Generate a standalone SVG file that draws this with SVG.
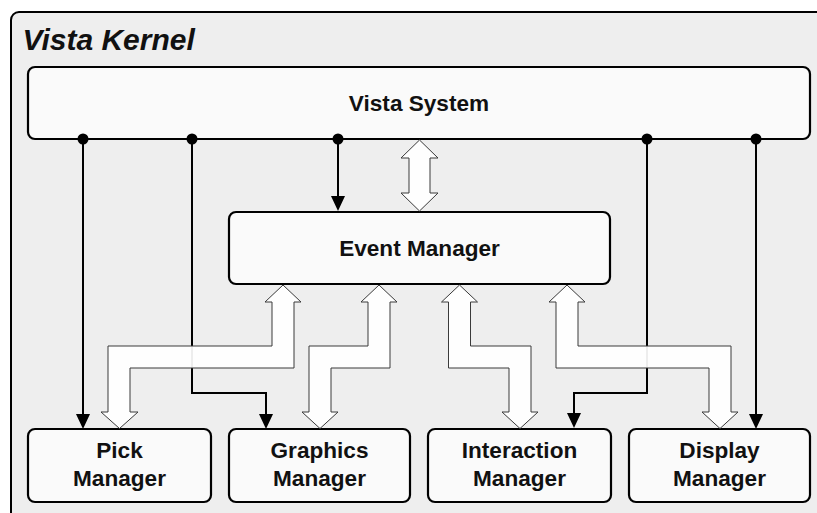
<svg xmlns="http://www.w3.org/2000/svg" width="817" height="513" viewBox="0 0 817 513">
  <defs>
    <marker id="tip" viewBox="0 0 15 14" refX="12" refY="7" markerWidth="15" markerHeight="14" markerUnits="userSpaceOnUse" orient="auto">
      <path d="M0,0 L15,7 L0,14 Z" fill="#000"/>
    </marker>
    <style>
      .box { fill: #fafafa; stroke: #000; stroke-width: 2.2; }
      .lbl { font-family: "Liberation Sans", Arial, sans-serif; font-weight: bold; font-size: 22.6px; fill: #111; text-anchor: middle; }
      .wire { fill: none; stroke: #000; stroke-width: 2; marker-end: url(#tip); }
      .dot { fill: #000; }
      .flow { fill: #fff; fill-opacity: 0.93; stroke: #3a3a3a; stroke-width: 1; stroke-linejoin: miter; }
    </style>
  </defs>

  <rect width="817" height="513" fill="#fff"/>

  <!-- kernel frame -->
  <g id="vista-kernel">
    <rect x="11" y="12" width="830" height="530" rx="8" fill="#eeeeee" stroke="#000" stroke-width="2"/>
    <text x="22.5" y="49.5" font-family="'Liberation Sans', Arial, sans-serif" font-weight="bold" font-style="italic" font-size="30" fill="#111">Vista Kernel</text>
  </g>

  <g id="vista-system">
    <rect class="box" x="28" y="67" width="782" height="72" rx="7"/>
    <text class="lbl" x="419" y="110.5">Vista System</text>
  </g>

  <g id="event-manager">
    <rect class="box" x="229" y="212" width="381" height="72" rx="7"/>
    <text class="lbl" x="419.5" y="255.5">Event Manager</text>
  </g>

  <g id="pick-manager">
    <rect class="box" x="28" y="429" width="183" height="73" rx="7"/>
    <text class="lbl" x="119.5" y="458">Pick</text>
    <text class="lbl" x="119.5" y="485.5">Manager</text>
  </g>

  <g id="graphics-manager">
    <rect class="box" x="229" y="429" width="181" height="73" rx="7"/>
    <text class="lbl" x="319.5" y="458">Graphics</text>
    <text class="lbl" x="319.5" y="485.5">Manager</text>
  </g>

  <g id="interaction-manager">
    <rect class="box" x="428" y="429" width="183" height="73" rx="7"/>
    <text class="lbl" x="519.5" y="458">Interaction</text>
    <text class="lbl" x="519.5" y="485.5">Manager</text>
  </g>

  <g id="display-manager">
    <rect class="box" x="629" y="429" width="181" height="73" rx="7"/>
    <text class="lbl" x="719.5" y="458">Display</text>
    <text class="lbl" x="719.5" y="485.5">Manager</text>
  </g>

  <g id="connectors">
    <!-- control lines from the system bus -->
    <path class="wire" d="M83,139 V426"/>
    <path class="wire" d="M192,139 V393 H266 V426"/>
    <path class="wire" d="M338,139 V208"/>
    <path class="wire" d="M647,139 V393 H574 V425"/>
    <path class="wire" d="M756,139 V426"/>

    <!-- two-way data flows -->
    <path class="flow" d="M419.5,140 L438,158 L430,158 L430,193 L438,193 L419.5,211 L401,193 L409,193 L409,158 L401,158 Z"/>
    <path class="flow" d="M283,285 L301,302 L294,302 L294,368 L130,368 L130,412 L138,412 L119.5,428.5 L101,412 L108,412 L108,346 L272,346 L272,302 L265,302 Z"/>
    <path class="flow" d="M379,285 L397,302 L390,302 L390,368 L331,368 L331,412 L338,412 L320,428.5 L302,412 L309,412 L309,346 L368,346 L368,302 L361,302 Z"/>
    <path class="flow" d="M459.5,285 L477.5,302 L470.5,302 L470.5,346 L531,346 L531,412 L538,412 L520,428.5 L502,412 L509,412 L509,368 L448.5,368 L448.5,302 L441.5,302 Z"/>
    <path class="flow" d="M567,285 L585,302 L578,302 L578,346 L731,346 L731,412 L738,412 L720,428.5 L702,412 L709,412 L709,368 L556,368 L556,302 L549,302 Z"/>

    <!-- bus junctions -->
    <circle class="dot" cx="83" cy="139" r="5.5"/>
    <circle class="dot" cx="192" cy="139" r="5.5"/>
    <circle class="dot" cx="338" cy="139" r="5.5"/>
    <circle class="dot" cx="647" cy="139" r="5.5"/>
    <circle class="dot" cx="756" cy="139" r="5.5"/>
  </g>
</svg>
